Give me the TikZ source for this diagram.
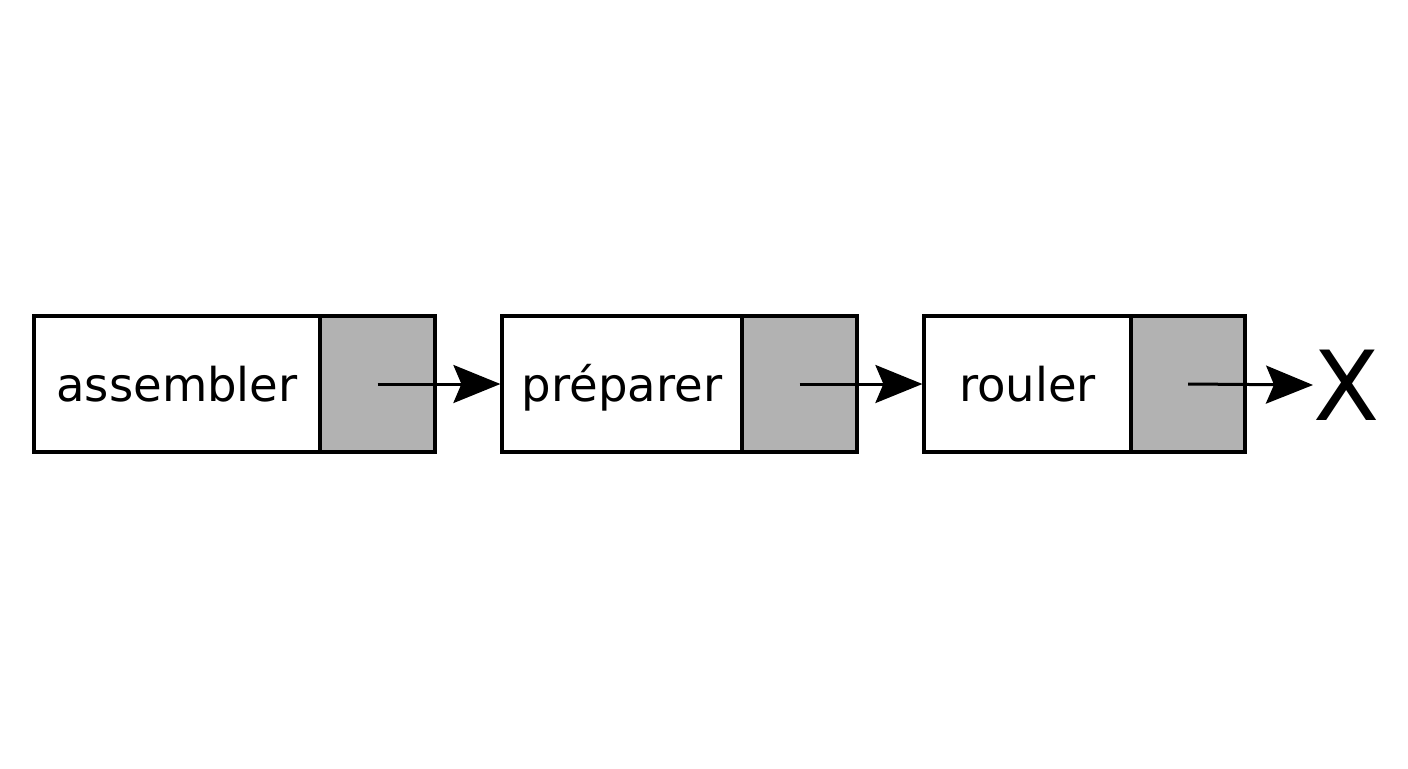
\documentclass[tikz,border=0pt]{standalone}
\usepackage{fontspec}
\setmainfont{DejaVu Sans}
\usetikzlibrary{arrows.meta}
\begin{document}
\begin{tikzpicture}[x=0.02cm,y=-0.02cm,
  datacell/.style={draw=black,line width=0.065cm,fill=white,minimum height=2.72cm,inner sep=0pt,text height=0.8cm,text depth=0.12cm,font=\fontsize{26.5}{30}\selectfont},
  ptrcell/.style={draw=black,line width=0.065cm,fill=black!30,minimum width=2.3cm,minimum height=2.72cm,inner sep=0pt},
  link/.style={line width=0.06cm,-{Stealth[length=0.94cm,width=0.76cm,inset=0.16cm]}}]
\useasboundingbox (0,0) rectangle (1408,768);
\node[datacell,minimum width=5.72cm] (d1) at (177,384) {assembler};
\node[ptrcell,minimum width=2.3cm] (p1) at (377.5,384) {};
\node[datacell,minimum width=4.8cm] (d2) at (622,384) {préparer};
\node[ptrcell,minimum width=2.3cm] (p2) at (799.5,384) {};
\node[datacell,minimum width=4.14cm] (d3) at (1027.5,384) {rouler};
\node[ptrcell,minimum width=2.28cm] (p3) at (1188,384) {};
\node[font=\fontsize{55}{60}\selectfont,inner sep=0pt,anchor=west] (x) at (1313,385) {X};
\draw[link] (p1.center) -- (d2.west);
\draw[link] (p2.center) -- (d3.west);
\draw[link] (p3.center) -- (x.west);
\end{tikzpicture}
\end{document}
